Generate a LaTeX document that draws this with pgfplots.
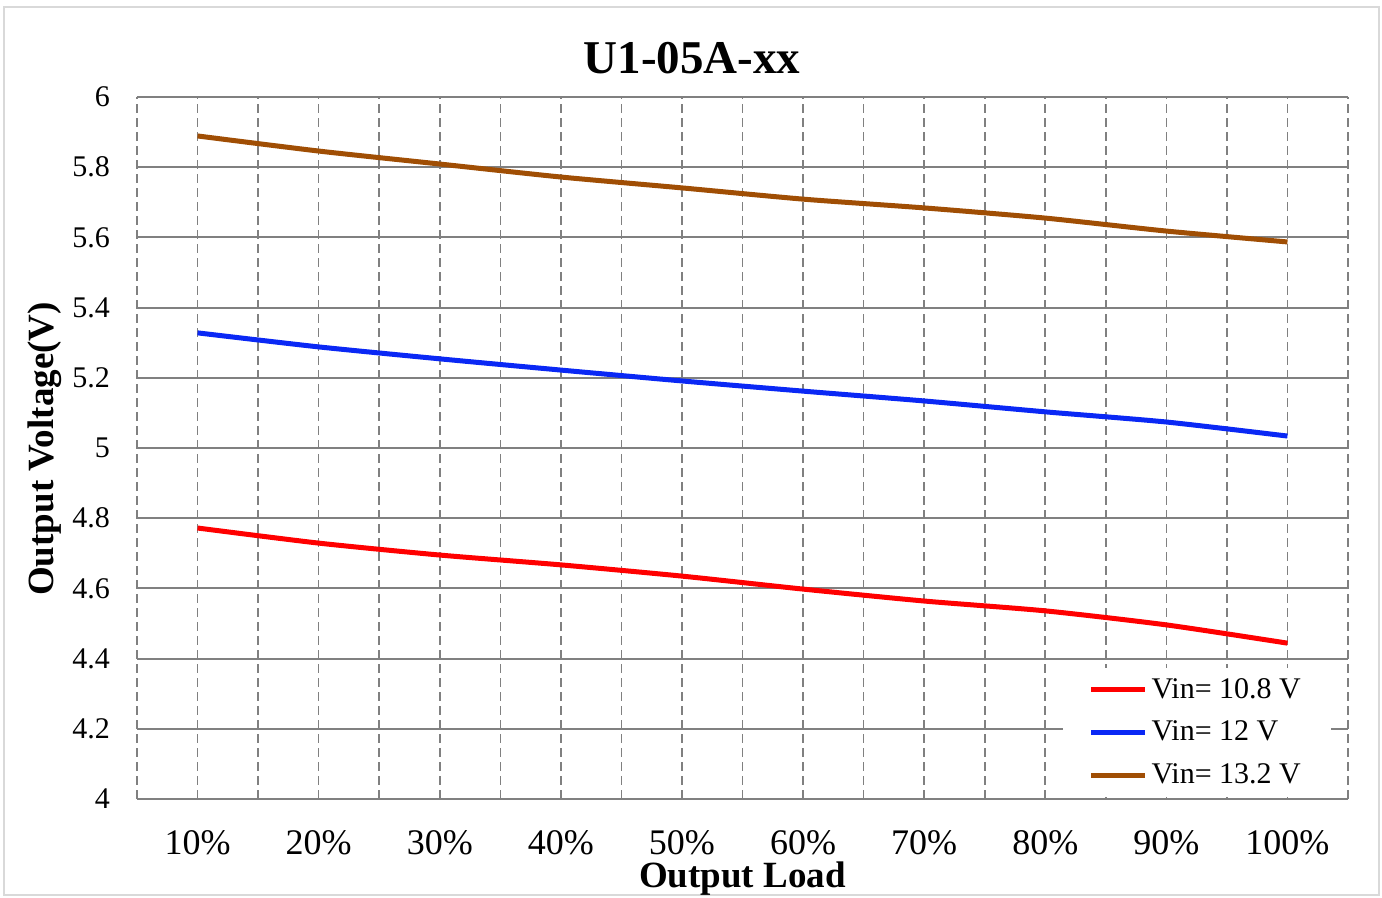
\documentclass[border=0pt]{standalone}
\usepackage{pgfplots}
\pgfplotsset{compat=1.18}
\usepackage{fontspec}
\setmainfont{Liberation Serif}
\definecolor{gridgray}{RGB}{128,128,128}
\definecolor{framegray}{RGB}{217,217,217}
\definecolor{vred}{RGB}{255,0,0}
\definecolor{vblue}{RGB}{10,40,245}
\definecolor{vbrown}{RGB}{160,78,4}
\begin{document}
\begin{tikzpicture}
% page: 1382x898 px at 0.5pt per px, origin at the plot's lower left corner
\useasboundingbox[fill=white] (-68.5pt,-49.5pt) rectangle (622.5pt,399.5pt);
\draw[framegray, line width=1pt] (-66.5pt,-48pt) rectangle (621pt,396pt);
\begin{axis}[
    scale only axis,
    width=605.5pt, height=351pt,
    xmin=0.5, xmax=10.5,
    ymin=4, ymax=6,
    xtick={0.5,1,...,10.5},
    xticklabels={,10\%,,20\%,,30\%,,40\%,,50\%,,60\%,,70\%,,80\%,,90\%,,100\%,},
    ytick={4.2,4.4,...,6.01},
    extra y ticks={4},
    extra y tick style={grid style={framegray, solid, line width=1pt}},
    xmajorgrids, ymajorgrids,
    major x grid style={gridgray, dash pattern=on 4.5pt off 2.5pt, line width=0.8pt},
    major y grid style={gridgray, solid, line width=1pt},
    axis line style={draw=none},
    tick style={draw=none},
    /pgf/number format/assume math mode=true,
    xticklabel style={font=\fontsize{18}{20}\selectfont, yshift=-12pt},
    yticklabel style={font=\fontsize{15}{17}\selectfont, xshift=-10pt},
    legend style={at={(axis cs:8.14,4.005)}, anchor=south west, draw=none, fill=white,
        font=\fontsize{15}{17}\selectfont, inner xsep=13pt, inner ysep=3pt,
        row sep=6pt, cells={anchor=west}},
    legend image code/.code={\draw[#1] (0pt,0pt) -- (27pt,0pt);},
    every axis plot/.append style={line width=2.5pt, smooth, tension=0.4, no marks},
]
\addplot[vred] coordinates {
    (1,4.772) (2,4.729) (3,4.695) (4,4.667) (5,4.635)
    (6,4.598) (7,4.564) (8,4.536) (9,4.496) (10,4.444)
};
\addlegendentry{Vin= 10.8 V}
\addplot[vblue] coordinates {
    (1,5.328) (2,5.288) (3,5.254) (4,5.222) (5,5.191)
    (6,5.162) (7,5.134) (8,5.103) (9,5.074) (10,5.034)
};
\addlegendentry{Vin= 12 V}
\addplot[vbrown] coordinates {
    (1,5.889) (2,5.846) (3,5.809) (4,5.772) (5,5.741)
    (6,5.709) (7,5.684) (8,5.655) (9,5.618) (10,5.587)
};
\addlegendentry{Vin= 13.2 V}
\end{axis}
\node[font=\fontsize{23.5}{26}\selectfont\bfseries] at (277.5pt,370.5pt) {U1-05A-xx};
\node[font=\fontsize{18.5}{20}\selectfont\bfseries] at (302.75pt,-40pt) {Output Load};
\node[font=\fontsize{18.5}{20}\selectfont\bfseries, rotate=90] at (-46pt,175pt) {Output Voltage(V)};
\end{tikzpicture}
\end{document}
